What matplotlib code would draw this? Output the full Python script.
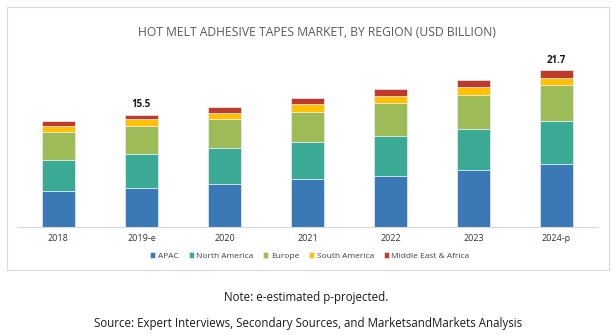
import matplotlib
matplotlib.use("Agg")
import matplotlib.pyplot as plt
from matplotlib.patches import Rectangle
import numpy as np

years = ["2018", "2019-e", "2020", "2021", "2022", "2023", "2024-p"]
apac = [5.02, 5.44, 5.90, 6.59, 7.10, 7.93, 8.66]
north_america = [4.29, 4.61, 4.98, 5.12, 5.44, 5.67, 5.94]
europe = [3.87, 3.96, 4.10, 4.24, 4.61, 4.70, 5.02]
south_america = [0.78, 0.92, 0.83, 1.01, 0.97, 1.06, 1.01]
mea = [0.65, 0.57, 0.78, 0.83, 0.97, 1.01, 1.07]
labels_shown = {"2019-e": "15.5", "2024-p": "21.7"}

series = [
    ("APAC", apac, "#3A78B6"),
    ("North America", north_america, "#3BAA94"),
    ("Europe", europe, "#9DBB56"),
    ("South America", south_america, "#FFC000"),
    ("Middle East & Africa", mea, "#BF3A2B"),
]

plt.rcParams['font.family'] = ['Open Sans', 'DejaVu Sans']

W, H = 613, 335
fig = plt.figure(figsize=(W / 100, H / 100), dpi=100)

# border box
fig.patches.append(Rectangle((7 / W, 1 - 270 / H), (609 - 7) / W, (270 - 7) / H,
                             transform=fig.transFigure, fill=False,
                             edgecolor="#D9D9D9", linewidth=0.8))

ax_left, ax_right = 17, 598
ax_bottom_px = 227
ymax = 24
px_per_unit = 7.24
ax_top_px = ax_bottom_px - ymax * px_per_unit
ax = fig.add_axes([ax_left / W, 1 - ax_bottom_px / H, (ax_right - ax_left) / W,
                   (ax_bottom_px - ax_top_px) / H])

x = np.arange(len(years))
bottom = np.zeros(len(years))
for name, vals, col in series:
    ax.bar(x, vals, width=0.4, bottom=bottom, color=col, label=name,
           edgecolor="#E8EEF5", linewidth=0.5)
    bottom += np.array(vals)

for i, y in enumerate(years):
    if y in labels_shown:
        ax.text(i, bottom[i] + 0.6, labels_shown[y], ha="center", va="bottom",
                fontsize=7, fontweight="bold", color="#1a1a1a")

ax.set_xlim(-0.5, len(years) - 0.5)
ax.set_ylim(0, ymax)
ax.set_xticks(x)
ax.set_xticklabels(years, fontsize=6.5, color="#333333")
ax.tick_params(axis="x", length=0, pad=5)
ax.set_yticks([])
for s in ["top", "right", "left"]:
    ax.spines[s].set_visible(False)
ax.spines["bottom"].set_color("#D9D9D9")
ax.spines["bottom"].set_linewidth(0.8)

fig.text(317 / W, 1 - 32 / H, "HOT MELT ADHESIVE TAPES MARKET, BY REGION (USD BILLION)",
         ha="center", va="center", fontsize=8.7, color="#595959")

handles, lbls = ax.get_legend_handles_labels()
fig.legend(handles, lbls, loc="center", bbox_to_anchor=(310 / W, 1 - 256 / H),
           ncol=5, frameon=False, fontsize=6, handlelength=0.6, handleheight=0.6,
           handletextpad=0.3, columnspacing=1.2, labelcolor="#404040")

fig.text(306 / W, 1 - 298 / H, "Note: e-estimated p-projected.", ha="center",
         va="center", fontsize=8.3, color="#1a1a1a")
fig.text(308 / W, 1 - 323 / H,
         "Source: Expert Interviews, Secondary Sources, and MarketsandMarkets Analysis",
         ha="center", va="center", fontsize=8.3, color="#1a1a1a")

fig.savefig("out.png", dpi=100)
